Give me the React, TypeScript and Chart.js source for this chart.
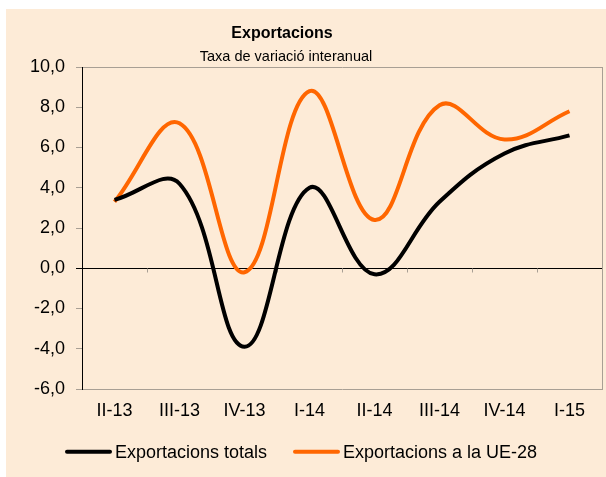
import React, { useEffect, useRef } from "react";
import { Chart, registerables } from "chart.js";

Chart.register(...registerables);

const categories = ["II-13", "III-13", "IV-13", "I-14", "II-14", "III-14", "IV-14", "I-15"];
const totals = [3.4, 4.2, -3.9, 4.0, -0.3, 3.3, 5.7, 6.6];
const ue28 = [3.3, 7.2, -0.2, 8.8, 2.4, 8.1, 6.4, 7.8];
const yMin = -6;
const yMax = 10;
const yStep = 2;
const titleText = "Exportacions";
const subtitleText = "Taxa de variació interanual";
const seriesNames = ["Exportacions totals", "Exportacions a la UE-28"];
const seriesColors = ["#000000", "#FF6600"];

const BG = "#FDEBD7";
const GREY = "#A89F94";
const FONT = '"Liberation Sans", Arial, sans-serif';

const decorPlugin = {
  id: "decor",
  beforeDatasetsDraw(chart: any) {
    const { ctx, chartArea: a, scales } = chart;
    const x = scales.x;
    const y = scales.y;
    ctx.save();
    ctx.lineWidth = 1;
    ctx.strokeStyle = GREY;
    const rx = Math.round(a.right) + 0.5;
    ctx.beginPath();
    ctx.moveTo(rx, Math.round(a.top));
    ctx.lineTo(rx, Math.round(a.bottom) + 1);
    ctx.stroke();
    const y0 = Math.round(y.getPixelForValue(0)) + 0.5;
    for (let i = 0; i < categories.length - 1; i++) {
      const xp = Math.round((x.getPixelForValue(i) + x.getPixelForValue(i + 1)) / 2) + 0.5;
      ctx.beginPath();
      ctx.moveTo(xp, y0);
      ctx.lineTo(xp, y0 + 4);
      ctx.stroke();
    }
    ctx.restore();
  },
  afterDraw(chart: any) {
    const { ctx } = chart;
    ctx.save();
    ctx.fillStyle = "#000";
    ctx.textAlign = "center";
    ctx.textBaseline = "alphabetic";
    ctx.font = `bold 16px ${FONT}`;
    ctx.fillText(titleText, 276, 28.5);
    ctx.font = `14.5px ${FONT}`;
    ctx.fillText(subtitleText, 280, 51.7);

    const sampleX = [59, 287];
    const textX = [109, 337];
    const ly = 442.7;
    ctx.textAlign = "left";
    ctx.textBaseline = "middle";
    ctx.font = `18px ${FONT}`;
    chart.data.datasets.forEach((ds: any, i: number) => {
      ctx.strokeStyle = ds.borderColor;
      ctx.lineWidth = 4;
      ctx.lineCap = "round";
      ctx.beginPath();
      ctx.moveTo(sampleX[i] + 2, ly);
      ctx.lineTo(sampleX[i] + 45, ly);
      ctx.stroke();
      ctx.fillStyle = "#000";
      ctx.fillText(ds.label, textX[i], ly + 1);
    });
    ctx.restore();
  },
};

export default function App() {
  const ref = useRef<HTMLCanvasElement | null>(null);

  useEffect(() => {
    if (!ref.current) return;
    const chart = new Chart(ref.current, {
      type: "line",
      data: {
        labels: categories,
        datasets: [
          {
            label: seriesNames[0],
            data: totals,
            borderColor: seriesColors[0],
            backgroundColor: seriesColors[0],
            borderWidth: 4,
            pointRadius: 0,
            tension: 0.4,
            fill: false,
          },
          {
            label: seriesNames[1],
            data: ue28,
            borderColor: seriesColors[1],
            backgroundColor: seriesColors[1],
            borderWidth: 4,
            pointRadius: 0,
            tension: 0.4,
            fill: false,
          },
        ],
      },
      options: {
        responsive: false,
        animation: false,
        devicePixelRatio: 1,
        layout: { padding: { top: 58, right: 4, left: 0, bottom: 0 } },
        plugins: {
          legend: { display: false },
          title: { display: false },
          tooltip: { enabled: false },
        },
        scales: {
          x: {
            offset: true,
            grid: { display: false, drawTicks: false },
            border: { display: true, color: GREY, width: 1 },
            ticks: {
              color: "#000",
              padding: 11,
              font: { family: FONT, size: 18 },
              maxRotation: 0,
              autoSkip: false,
            },
            afterFit(scale: any) {
              scale.height = 88;
            },
          },
          y: {
            min: yMin,
            max: yMax,
            ticks: {
              stepSize: yStep,
              color: "#000",
              padding: 11,
              font: { family: FONT, size: 18 },
              callback: (v: any) => Number(v).toFixed(1).replace(".", ","),
            },
            grid: {
              drawTicks: true,
              tickLength: 6,
              color: (c: any) =>
                c.tick && c.tick.value === 0 ? "#000" : c.tick && c.tick.value === yMax ? GREY : "rgba(0,0,0,0)",
              tickColor: (c: any) => (c.tick && c.tick.value === 0 ? "#000" : GREY),
            },
            border: { display: true, color: "#000", width: 1 },
            afterFit(scale: any) {
              scale.width = 76;
            },
          },
        },
      },
      plugins: [decorPlugin],
    });
    return () => chart.destroy();
  }, []);

  return (
    <div style={{ position: "absolute", left: 0, top: 0, width: 606, height: 477, background: "#fff" }}>
      <canvas
        ref={ref}
        width={600}
        height={468}
        style={{ position: "absolute", left: 6, top: 9, width: 600, height: 468, background: BG }}
      />
    </div>
  );
}
